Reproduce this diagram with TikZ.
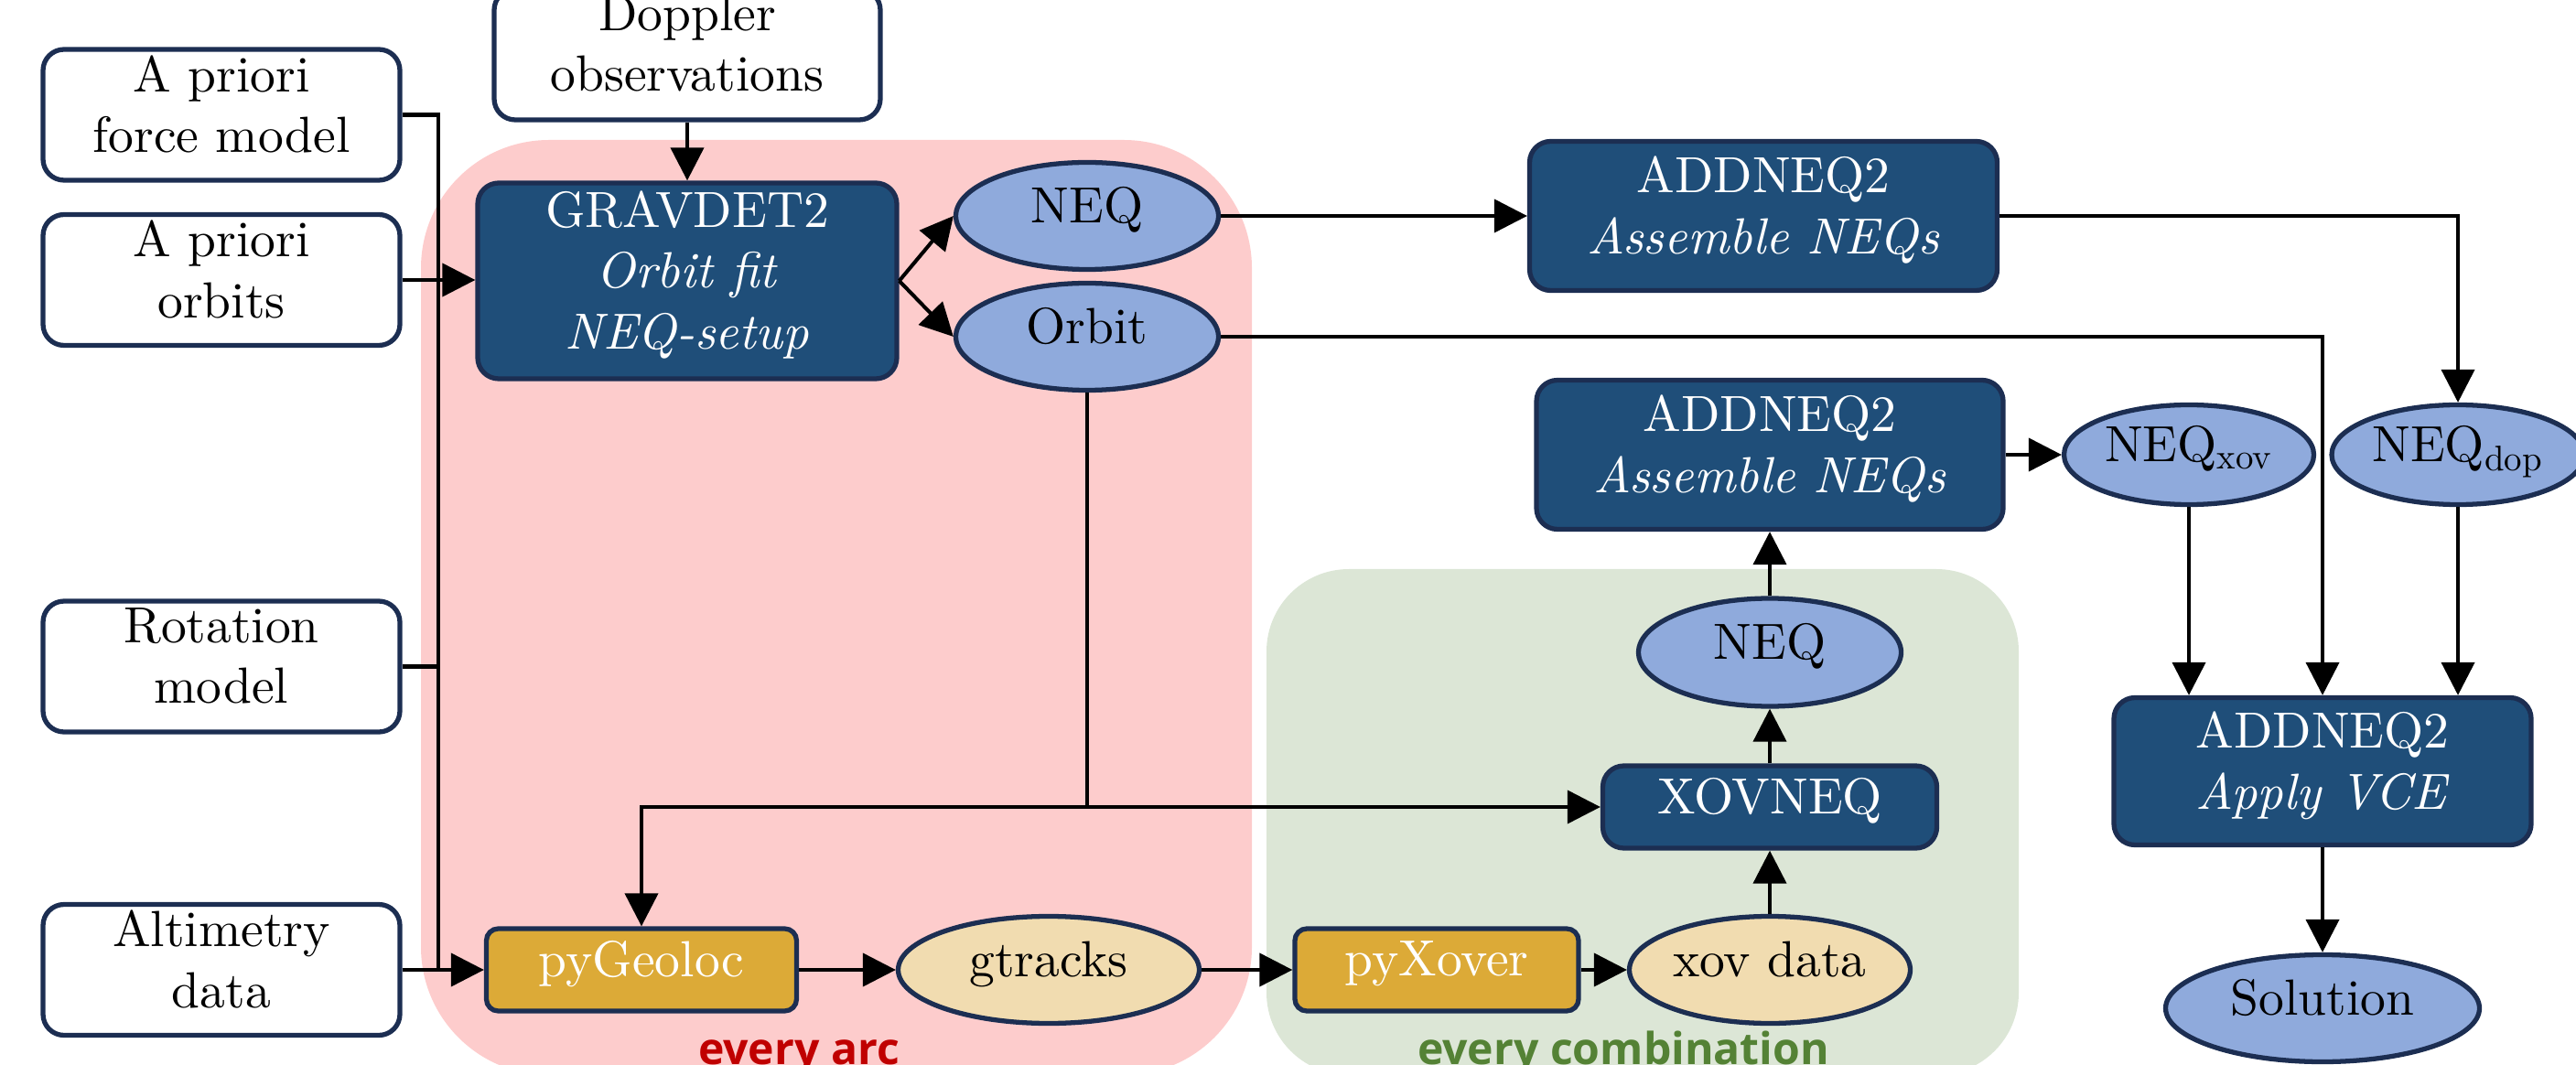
\documentclass[tikz,border=0pt]{standalone}
\usepackage{fontspec}
\setmainfont{lmroman10-regular}[Extension=.otf, ItalicFont=lmroman10-italic,
    BoldFont=lmroman10-bold, BoldItalicFont=lmroman10-bolditalic]
\newfontfamily\grouplabelfont{Open Sans}
\usepackage{tikz}
\usetikzlibrary{arrows.meta, shapes.geometric}

\definecolor{navyline}{RGB}{28,46,82}
\definecolor{procblue}{RGB}{31,78,121}
\definecolor{neqblue}{RGB}{143,170,220}
\definecolor{toolgold}{RGB}{220,170,55}
\definecolor{datawheat}{RGB}{241,220,176}
\definecolor{arcshade}{RGB}{253,204,204}
\definecolor{combshade}{RGB}{220,230,214}
\definecolor{arcred}{RGB}{192,0,0}
\definecolor{combgreen}{RGB}{84,130,53}

\begin{document}
\begin{tikzpicture}[
    font=\fontsize{15.8}{18.9}\selectfont,
    inbox/.style={draw=navyline, line width=1.5pt, fill=white, rounded corners=0.23cm,
        align=center, inner sep=0pt, text depth=0.24cm, minimum width=3.9cm, minimum height=1.43cm},
    procbox/.style={draw=navyline, line width=1.5pt, fill=procblue, text=white, rounded corners=0.23cm,
        align=center, inner sep=0pt, text depth=0.24cm},
    neqnode/.style={ellipse, draw=navyline, line width=1.5pt, fill=neqblue, inner sep=0pt,
        text depth=0.24cm, minimum height=1.17cm},
    toolbox/.style={draw=navyline, line width=1.5pt, fill=toolgold, text=white, rounded corners=0.13cm,
        inner sep=0pt, text depth=0.24cm, minimum height=0.9cm},
    datanode/.style={ellipse, draw=navyline, line width=1.5pt, fill=datawheat, inner sep=0pt,
        text depth=0.24cm, minimum height=1.17cm},
    wire/.style={line width=1.15pt},
    flow/.style={line width=1.15pt, -{Triangle[length=0.36cm,width=0.36cm]}},
    grouplabel/.style={anchor=base, inner sep=0pt, font={\grouplabelfont\bfseries\fontsize{13.7}{16}\selectfont}}
    ]
    \useasboundingbox (0,0) rectangle (28.15,-11.64);
%
    \fill[arcshade, rounded corners=1.4cm] (4.60,-1.53) rectangle (13.68,-11.75);
    \fill[combshade, rounded corners=0.9cm] (13.84,-6.22) rectangle (22.06,-11.75);
    \node[grouplabel, text=arcred] (arclabel) at (8.73,-11.63) {every arc};
    \node[grouplabel, text=combgreen] (comblabel) at (17.74,-11.63) {every combination};
%
    \node[inbox] (forcemodel) at (2.42,-1.255) {A priori\\force model};
    \node[inbox] (aprioriorb) at (2.42,-3.06) {A priori\\orbits};
    \node[inbox] (rotmodel) at (2.42,-7.285) {Rotation\\model};
    \node[inbox] (altim) at (2.42,-10.60) {Altimetry\\data};
    \node[inbox, minimum width=4.22cm] (doppler) at (7.51,-0.595) {Doppler\\observations};
%
    \node[procbox, minimum width=4.58cm, minimum height=2.14cm] (gravdet) at (7.51,-3.07)
        {GRAVDET2\\\textit{Orbit fit}\\\textit{NEQ-setup}};
    \node[neqnode, minimum width=2.87cm] (neqarc) at (11.88,-2.36) {NEQ};
    \node[neqnode, minimum width=2.87cm] (orbit) at (11.88,-3.68) {Orbit};
    \node[procbox, minimum width=5.11cm, minimum height=1.63cm] (assemble) at (19.27,-2.36)
        {ADDNEQ2\\\textit{Assemble NEQs}};
    \node[procbox, minimum width=5.10cm, minimum height=1.63cm] (assemblexov) at (19.34,-4.97)
        {ADDNEQ2\\\textit{Assemble NEQs}};
    \node[neqnode, minimum width=2.73cm, minimum height=1.09cm] (neqxov) at (23.92,-4.97) {NEQ\textsubscript{xov}};
    \node[neqnode, minimum width=2.76cm, minimum height=1.09cm] (neqdop) at (26.86,-4.97) {NEQ\textsubscript{dop}};
    \node[procbox, minimum width=4.56cm, minimum height=1.61cm] (vce) at (25.38,-8.43)
        {ADDNEQ2\\\textit{Apply VCE}};
    \node[neqnode, minimum width=3.43cm] (solution) at (25.38,-11.02) {Solution};
%
    \node[neqnode, minimum width=2.87cm, minimum height=1.18cm] (neqcomb) at (19.34,-7.13) {NEQ};
    \node[procbox, minimum width=3.65cm, minimum height=0.9cm] (xovneq) at (19.34,-8.82) {XOVNEQ};
    \node[toolbox, minimum width=3.39cm] (pygeoloc) at (7.01,-10.60) {pyGeoloc};
    \node[datanode, minimum width=3.29cm] (gtracks) at (11.46,-10.60) {gtracks};
    \node[toolbox, minimum width=3.10cm] (pyxover) at (15.70,-10.60) {pyXover};
    \node[datanode, minimum width=3.07cm] (xovdata) at (19.34,-10.60) {xov data};
%
    \coordinate (trunk) at (4.79,-10.60);
    \draw[wire] (forcemodel.east) -| (trunk);
    \draw[wire] (rotmodel.east) -- (rotmodel.east -| trunk);
    \draw[flow] (aprioriorb.east) -- (aprioriorb.east -| gravdet.west);
    \draw[flow] (altim.east) -- (pygeoloc.west);
    \draw[flow] (doppler.south) -- (gravdet.north);
%
    \draw[flow] (gravdet.east) -- (neqarc.west);
    \draw[flow] (gravdet.east) -- (orbit.west);
    \draw[flow] (neqarc.east) -- (assemble.west);
    \draw[flow] (assemble.east) -| (neqdop.north);
    \draw[flow] (orbit.east) -| (vce.north);
%
    \coordinate (orbitsplit) at (orbit.south |- xovneq.west);
    \draw[wire] (orbit.south) -- (orbitsplit);
    \draw[flow] (orbitsplit) -- (xovneq.west);
    \draw[flow] (orbitsplit) -| (pygeoloc.north);
%
    \draw[flow] (pygeoloc.east) -- (gtracks.west);
    \draw[flow] (gtracks.east) -- (pyxover.west);
    \draw[flow] (pyxover.east) -- (xovdata.west);
    \draw[flow] (xovdata.north) -- (xovneq.south);
    \draw[flow] (xovneq.north) -- (neqcomb.south);
    \draw[flow] (neqcomb.north) -- (assemblexov.south);
    \draw[flow] (assemblexov.east) -- (neqxov.west);
%
    \draw[flow] (neqxov.south) -- (neqxov.south |- vce.north);
    \draw[flow] (neqdop.south) -- (neqdop.south |- vce.north);
    \draw[flow] (vce.south) -- (solution.north);
\end{tikzpicture}
\end{document}
